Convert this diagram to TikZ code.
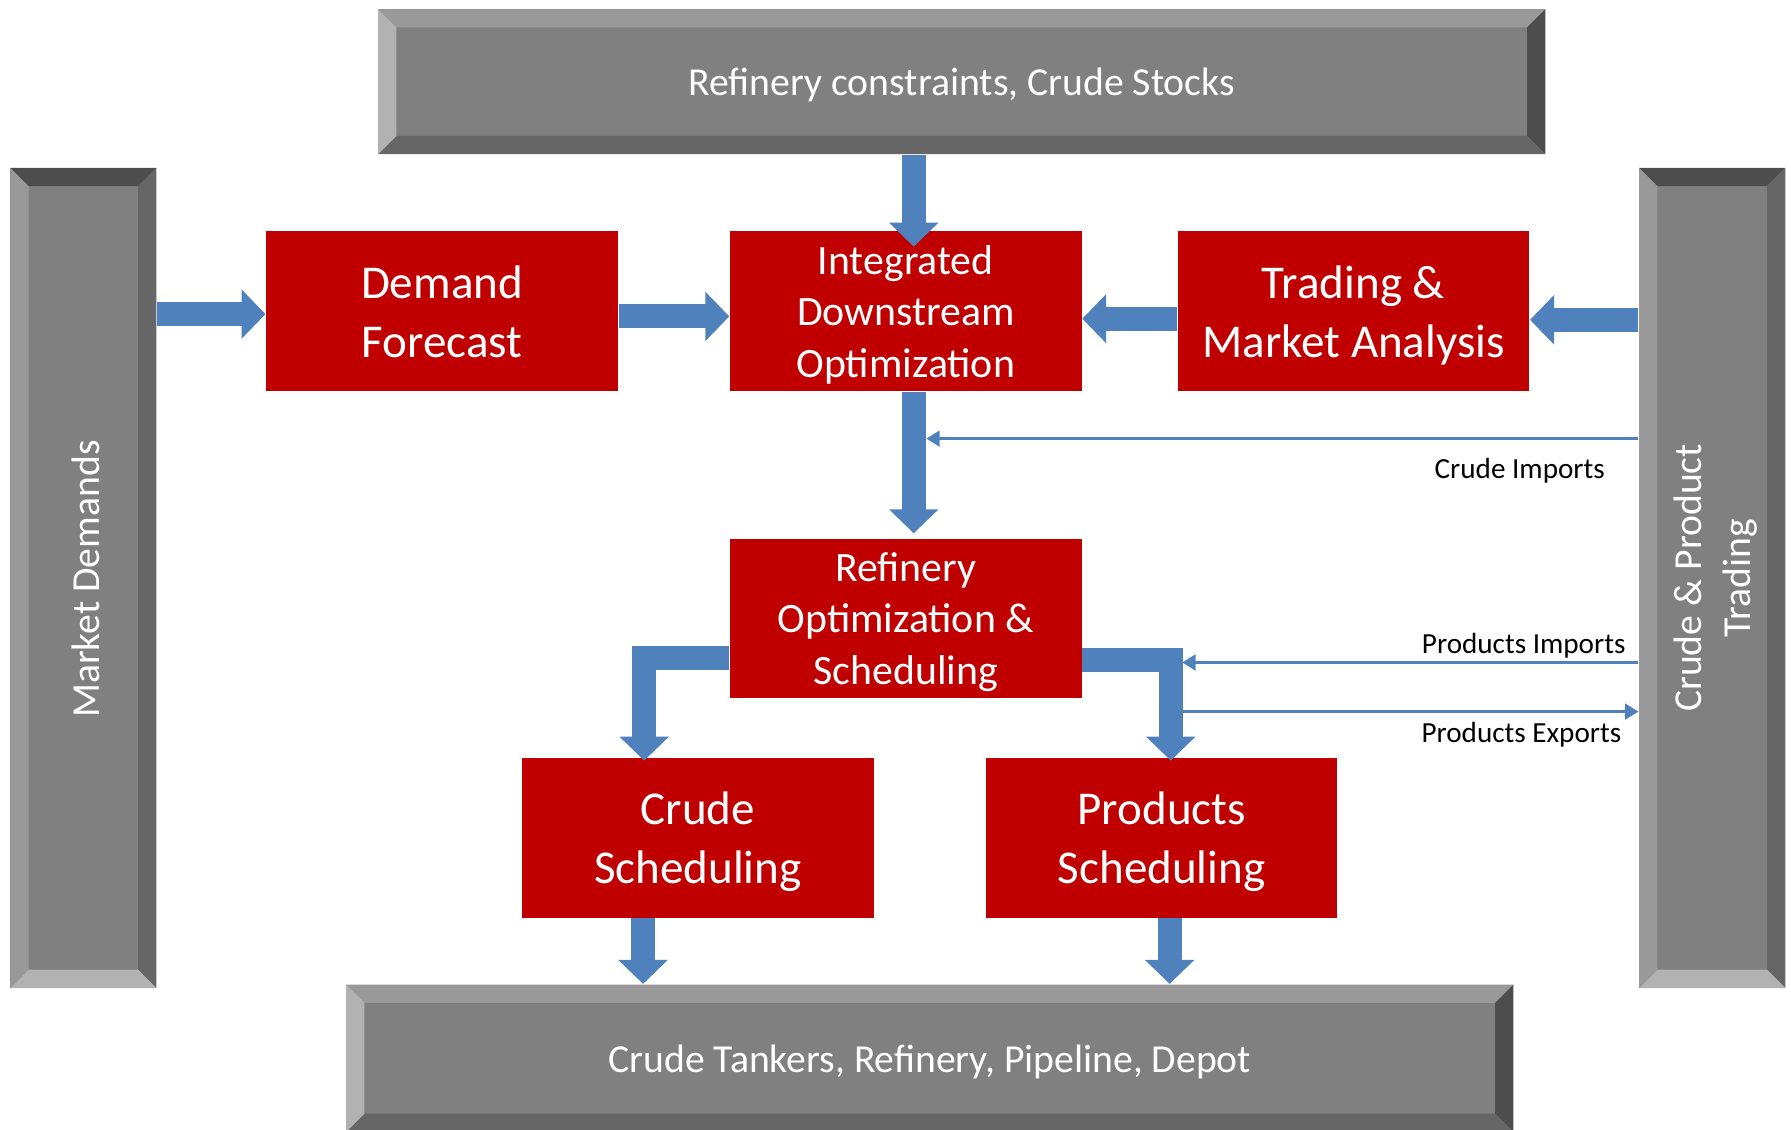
\documentclass[tikz,border=0pt]{standalone}
\usepackage{fontspec}
\setmainfont{Carlito}
\usetikzlibrary{arrows.meta,calc}
\definecolor{redbox}{HTML}{C00000}
\definecolor{ablue}{HTML}{4F81BD}
\definecolor{gmid}{HTML}{808080}
\definecolor{glight}{HTML}{999999}
\definecolor{glighter}{HTML}{B2B2B2}
\definecolor{gdark}{HTML}{666666}
\definecolor{gdarker}{HTML}{4D4D4D}
\def\U{0.32499pt}
% x1 y1 x2 y2, colours: top right bottom left
\newcommand\bevbox[8]{%
  \fill[gmid] (#1,#2) rectangle (#3,#4);
  \fill[#5] (#1,#2) -- (#3,#2) -- (#3-16,#2+16) -- (#1+16,#2+16) -- cycle;
  \fill[#6] (#3,#2) -- (#3,#4) -- (#3-16,#4-16) -- (#3-16,#2+16) -- cycle;
  \fill[#7] (#1,#4) -- (#3,#4) -- (#3-16,#4-16) -- (#1+16,#4-16) -- cycle;
  \fill[#8] (#1,#2) -- (#1,#4) -- (#1+16,#4-16) -- (#1+16,#2+16) -- cycle;
}
\tikzset{
  redblock/.style={fill=redbox, text=white, minimum width=308*\U, minimum height=140*\U, inner sep=0pt, align=center, text depth=0pt},
  bigfont/.style={font=\fontsize{13.4pt}{16.8pt}\selectfont},
  midfont/.style={font=\fontsize{11.9pt}{14.6pt}\selectfont},
  grayfont/.style={font=\fontsize{11.3pt}{13.7pt}\selectfont, text=white},
  lblfont/.style={font=\fontsize{8.3pt}{10pt}\selectfont, text=black, inner sep=0pt, text depth=0pt},
  shapebox/.style={inner sep=0pt, text depth=0pt},
  fat/.style={draw=ablue, line width=21*\U, line join=miter, line cap=butt,
    -{Triangle[width=13.65pt, length=6.82pt]}},
  thinarr/.style={draw=ablue, line width=0.65pt, -{Triangle[width=4.5pt, length=3.8pt]}},
}
\begin{document}
\begin{tikzpicture}[x=0.011422cm, y=-0.011422cm]
\useasboundingbox (0,0) rectangle (1568,989);
% bevel frames
\bevbox{331}{8}{1353}{135}{glight}{gdarker}{gdark}{glighter}
\bevbox{9}{147}{137}{865}{gdarker}{gdark}{glighter}{glight}
\bevbox{1435}{147}{1563}{865}{gdarker}{gdark}{glighter}{glight}
\bevbox{303}{862}{1325}{991}{glight}{gdarker}{gdark}{glighter}
% frame nodes
\node[shapebox, minimum width=1022*\U, minimum height=127*\U, grayfont] (topbox) at (842,71.5) {Refinery constraints, Crude Stocks};
\node[shapebox, minimum width=128*\U, minimum height=718*\U] (lbox) at (73,506) {};
\node[shapebox, minimum width=128*\U, minimum height=718*\U] (rbox) at (1499,506) {};
\node[shapebox, minimum width=1022*\U, minimum height=129*\U, grayfont] (bbox) at (814,926.5) {Crude Tankers, Refinery, Pipeline, Depot};
\node[grayfont, rotate=90, inner sep=0pt] (ltext) at (75,507) {Market Demands};
\node[grayfont, rotate=90, align=center, inner sep=0pt] (rtext) at (1502,506) {Crude \& Product\\Trading};
% red blocks
\node[redblock, bigfont] (df) at (387,272.5) {Demand\\Forecast};
\node[redblock, midfont] (ido) at (793,272.5) {Integrated\\Downstream\\Optimization};
\node[redblock, bigfont] (tma) at (1185,272.5) {Trading \&\\Market Analysis};
\node[redblock, midfont] (ros) at (793,541.5) {Refinery\\Optimization \&\\Scheduling};
\node[redblock, bigfont] (cs) at (611,733.5) {Crude\\Scheduling};
\node[redblock, bigfont] (ps) at (1017,733.5) {Products\\Scheduling};
% helper coordinates
\coordinate (x800) at (800,0);
\coordinate (x564) at (564,0);
\coordinate (x1025) at (1025,0);
\coordinate (x563) at (563,0);
\coordinate (x1024) at (1024,0);
\coordinate (r1) at (0,275);
\coordinate (r2) at (0,277);
\coordinate (r3) at (0,279);
\coordinate (r4) at (0,280);
\coordinate (r5) at (0,576);
\coordinate (r6) at (0,578);
\coordinate (ciend) at (811,384);
\coordinate (piend) at (1035,580);
\coordinate (pestart) at (1035,623);
% fat arrows
\draw[fat] (topbox.south -| x800) -- ($(ido.north -| x800)+(0,14)$);
\draw[fat] (lbox.east |- r1) -- (df.west |- r1);
\draw[fat] (df.east |- r2) -- (ido.west |- r2);
\draw[fat] (tma.west |- r3) -- (ido.east |- r3);
\draw[fat] (rbox.west |- r4) -- (tma.east |- r4);
\draw[fat] (ido.south -| x800) -- ($(ros.north -| x800)+(0,-4)$);
\draw[fat] (ros.west |- r5) -| ($(cs.north -| x564)+(0,3)$);
\draw[fat] (ros.east |- r6) -| ($(ps.north -| x1025)+(0,3)$);
\draw[fat] (cs.south -| x563) -- (bbox.north -| x563);
\draw[fat] (ps.south -| x1024) -- (bbox.north -| x1024);
% thin arrows
\draw[thinarr] (rbox.west |- ciend) -- (ciend);
\draw[thinarr] (rbox.west |- piend) -- (piend);
\draw[thinarr] (pestart) -- (rbox.west |- pestart);
\node[lblfont] (lci) at (1330.5,410) {Crude Imports};
\node[lblfont] (lpi) at (1334,563) {Products Imports};
\node[lblfont] (lpe) at (1332,641) {Products Exports};
\end{tikzpicture}
\end{document}
